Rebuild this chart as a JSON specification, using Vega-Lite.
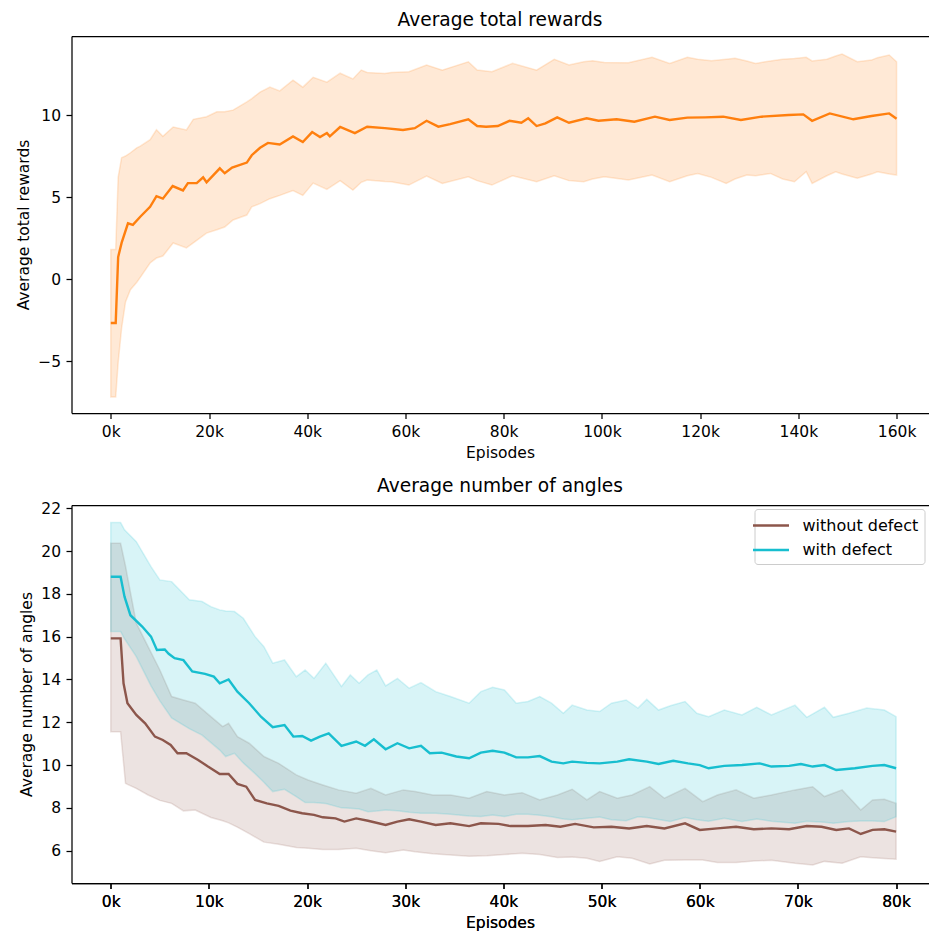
{
  "$schema": "https://vega.github.io/schema/vega-lite/v6.json",
  "padding": {"left": 16.5, "top": 11, "right": 1, "bottom": 0},
  "background": "white",
  "datasets": {
    "top_band": [
      {"ep":0,"lo":-7.2,"hi":1.8},{"ep":1000,"lo":-7.2,"hi":1.8},{"ep":1500,"lo":-5.1,"hi":6.2},{"ep":2200,"lo":-3.0,"hi":7.4},{"ep":3000,"lo":-1.4,"hi":7.5},{"ep":4000,"lo":-0.65,"hi":7.7},{"ep":5300,"lo":-0.2,"hi":8.0},{"ep":6000,"lo":0.1,"hi":8.1},{"ep":8000,"lo":0.98,"hi":8.5},{"ep":9300,"lo":1.28,"hi":9.1},{"ep":10600,"lo":1.4,"hi":8.7},{"ep":12700,"lo":2.2,"hi":9.27},{"ep":15400,"lo":1.9,"hi":9.09},{"ep":16800,"lo":2.2,"hi":9.74},{"ep":19500,"lo":2.8,"hi":9.9},{"ep":21600,"lo":3.0,"hi":10.2},{"ep":23200,"lo":3.17,"hi":10.2},{"ep":24900,"lo":3.6,"hi":10.3},{"ep":27700,"lo":3.9,"hi":10.8},{"ep":28700,"lo":4.4,"hi":11.0},{"ep":30400,"lo":4.6,"hi":11.4},{"ep":32400,"lo":4.9,"hi":11.7},{"ep":34400,"lo":5.1,"hi":11.47},{"ep":37100,"lo":5.4,"hi":12.13},{"ep":39100,"lo":5.1,"hi":11.7},{"ep":41200,"lo":5.85,"hi":12.3},{"ep":44000,"lo":5.47,"hi":12.0},{"ep":46700,"lo":6.0,"hi":12.55},{"ep":49300,"lo":5.42,"hi":12.2},{"ep":51000,"lo":5.9,"hi":12.74},{"ep":52200,"lo":6.04,"hi":12.6},{"ep":55800,"lo":5.95,"hi":12.54},{"ep":57100,"lo":5.93,"hi":12.6},{"ep":60700,"lo":5.73,"hi":12.64},{"ep":64300,"lo":6.28,"hi":13.05},{"ep":67500,"lo":5.83,"hi":12.74},{"ep":72800,"lo":6.24,"hi":13.25},{"ep":74600,"lo":6.0,"hi":12.74},{"ep":77600,"lo":5.73,"hi":12.64},{"ep":81800,"lo":6.3,"hi":13.15},{"ep":86700,"lo":5.93,"hi":12.74},{"ep":90300,"lo":6.3,"hi":13.4},{"ep":93300,"lo":6.0,"hi":13.05},{"ep":96300,"lo":5.93,"hi":13.25},{"ep":98100,"lo":6.1,"hi":13.31},{"ep":100500,"lo":6.24,"hi":13.2},{"ep":105400,"lo":6.04,"hi":13.19},{"ep":110200,"lo":6.34,"hi":13.52},{"ep":113800,"lo":5.93,"hi":13.15},{"ep":117400,"lo":6.3,"hi":13.52},{"ep":119500,"lo":6.44,"hi":13.4},{"ep":122300,"lo":6.2,"hi":13.31},{"ep":125300,"lo":5.83,"hi":13.4},{"ep":127100,"lo":6.1,"hi":13.46},{"ep":129500,"lo":6.34,"hi":13.3},{"ep":131300,"lo":6.3,"hi":13.15},{"ep":134300,"lo":6.44,"hi":13.3},{"ep":136800,"lo":6.1,"hi":13.4},{"ep":139200,"lo":5.93,"hi":13.45},{"ep":141600,"lo":6.54,"hi":13.52},{"ep":142800,"lo":5.83,"hi":13.3},{"ep":145800,"lo":6.3,"hi":13.4},{"ep":147600,"lo":6.54,"hi":13.6},{"ep":148900,"lo":6.4,"hi":13.72},{"ep":152000,"lo":6.14,"hi":13.25},{"ep":154900,"lo":6.4,"hi":13.35},{"ep":156100,"lo":6.54,"hi":13.5},{"ep":158500,"lo":6.4,"hi":13.66},{"ep":160000,"lo":6.34,"hi":13.25}
    ],
    "top_mean": [
      {"ep":0,"v":-2.68},{"ep":1000,"v":-2.68},{"ep":1500,"v":1.34},{"ep":2200,"v":2.2},{"ep":3500,"v":3.4},{"ep":4500,"v":3.3},{"ep":6000,"v":3.8},{"ep":8000,"v":4.4},{"ep":9300,"v":5.05},{"ep":10600,"v":4.9},{"ep":12600,"v":5.67},{"ep":14700,"v":5.4},{"ep":15700,"v":5.85},{"ep":17500,"v":5.85},{"ep":18800,"v":6.2},{"ep":19500,"v":5.9},{"ep":22200,"v":6.75},{"ep":23200,"v":6.45},{"ep":24700,"v":6.8},{"ep":27700,"v":7.1},{"ep":28700,"v":7.55},{"ep":30400,"v":8.0},{"ep":32000,"v":8.3},{"ep":34400,"v":8.2},{"ep":37100,"v":8.7},{"ep":39100,"v":8.35},{"ep":41000,"v":8.96},{"ep":42600,"v":8.66},{"ep":44000,"v":8.9},{"ep":44600,"v":8.7},{"ep":46700,"v":9.27},{"ep":49700,"v":8.9},{"ep":52200,"v":9.29},{"ep":55800,"v":9.2},{"ep":59500,"v":9.09},{"ep":61900,"v":9.2},{"ep":64300,"v":9.65},{"ep":66700,"v":9.29},{"ep":69100,"v":9.45},{"ep":72800,"v":9.74},{"ep":74600,"v":9.33},{"ep":76400,"v":9.29},{"ep":78800,"v":9.33},{"ep":81200,"v":9.65},{"ep":83600,"v":9.53},{"ep":85000,"v":9.8},{"ep":86700,"v":9.33},{"ep":88500,"v":9.49},{"ep":90900,"v":9.86},{"ep":93300,"v":9.53},{"ep":96900,"v":9.8},{"ep":99300,"v":9.65},{"ep":103000,"v":9.74},{"ep":106600,"v":9.59},{"ep":110800,"v":9.9},{"ep":113800,"v":9.7},{"ep":117400,"v":9.84},{"ep":121000,"v":9.86},{"ep":124700,"v":9.9},{"ep":128300,"v":9.7},{"ep":132500,"v":9.9},{"ep":138000,"v":10.0},{"ep":141000,"v":10.04},{"ep":142800,"v":9.65},{"ep":146400,"v":10.1},{"ep":151200,"v":9.74},{"ep":154900,"v":9.94},{"ep":158500,"v":10.1},{"ep":160000,"v":9.78}
    ],
    "bot_band": [
      {"s":"with defect","ep":0,"lo":16.24,"hi":21.33},{"s":"with defect","ep":1000,"lo":16.24,"hi":21.33},{"s":"with defect","ep":1400,"lo":15.9,"hi":20.99},{"s":"with defect","ep":2600,"lo":15.07,"hi":20.44},{"s":"with defect","ep":4100,"lo":13.7,"hi":19.27},{"s":"with defect","ep":5000,"lo":13.0,"hi":18.65},{"s":"with defect","ep":6200,"lo":12.2,"hi":18.57},{"s":"with defect","ep":8000,"lo":11.7,"hi":17.72},{"s":"with defect","ep":9300,"lo":11.4,"hi":17.64},{"s":"with defect","ep":10200,"lo":11.05,"hi":17.4},{"s":"with defect","ep":11100,"lo":10.7,"hi":17.25},{"s":"with defect","ep":11700,"lo":10.4,"hi":17.2},{"s":"with defect","ep":12600,"lo":10.55,"hi":17.17},{"s":"with defect","ep":13500,"lo":10.1,"hi":16.86},{"s":"with defect","ep":14700,"lo":9.6,"hi":16.0},{"s":"with defect","ep":15600,"lo":9.2,"hi":15.53},{"s":"with defect","ep":16500,"lo":8.76,"hi":14.76},{"s":"with defect","ep":17700,"lo":8.87,"hi":14.91},{"s":"with defect","ep":18900,"lo":8.52,"hi":14.13},{"s":"with defect","ep":19800,"lo":8.25,"hi":14.44},{"s":"with defect","ep":20700,"lo":8.25,"hi":14.05},{"s":"with defect","ep":21900,"lo":8.2,"hi":14.76},{"s":"with defect","ep":23500,"lo":8.0,"hi":13.67},{"s":"with defect","ep":24400,"lo":7.98,"hi":14.21},{"s":"with defect","ep":25300,"lo":7.95,"hi":13.82},{"s":"with defect","ep":26200,"lo":7.82,"hi":14.21},{"s":"with defect","ep":27100,"lo":7.85,"hi":14.44},{"s":"with defect","ep":28000,"lo":7.9,"hi":13.7},{"s":"with defect","ep":29200,"lo":7.87,"hi":14.05},{"s":"with defect","ep":30400,"lo":7.8,"hi":13.59},{"s":"with defect","ep":31600,"lo":7.75,"hi":13.85},{"s":"with defect","ep":33100,"lo":7.75,"hi":13.43},{"s":"with defect","ep":34600,"lo":7.7,"hi":13.2},{"s":"with defect","ep":36500,"lo":7.62,"hi":12.89},{"s":"with defect","ep":37700,"lo":7.6,"hi":13.43},{"s":"with defect","ep":38900,"lo":7.67,"hi":13.63},{"s":"with defect","ep":40100,"lo":7.6,"hi":13.51},{"s":"with defect","ep":41300,"lo":7.7,"hi":12.89},{"s":"with defect","ep":42500,"lo":7.7,"hi":12.97},{"s":"with defect","ep":43700,"lo":7.65,"hi":13.2},{"s":"with defect","ep":44900,"lo":7.59,"hi":12.89},{"s":"with defect","ep":46100,"lo":7.48,"hi":12.42},{"s":"with defect","ep":47000,"lo":7.45,"hi":12.8},{"s":"with defect","ep":48500,"lo":7.51,"hi":12.57},{"s":"with defect","ep":49800,"lo":7.57,"hi":12.5},{"s":"with defect","ep":51000,"lo":7.45,"hi":12.89},{"s":"with defect","ep":52500,"lo":7.4,"hi":13.04},{"s":"with defect","ep":53700,"lo":7.58,"hi":12.66},{"s":"with defect","ep":54600,"lo":7.55,"hi":13.07},{"s":"with defect","ep":55800,"lo":7.46,"hi":12.57},{"s":"with defect","ep":57000,"lo":7.36,"hi":12.77},{"s":"with defect","ep":58500,"lo":7.55,"hi":12.97},{"s":"with defect","ep":59700,"lo":7.45,"hi":12.42},{"s":"with defect","ep":60900,"lo":7.38,"hi":12.26},{"s":"with defect","ep":62500,"lo":7.51,"hi":12.57},{"s":"with defect","ep":64300,"lo":7.36,"hi":12.34},{"s":"with defect","ep":65800,"lo":7.48,"hi":12.7},{"s":"with defect","ep":67300,"lo":7.38,"hi":12.34},{"s":"with defect","ep":69700,"lo":7.28,"hi":12.8},{"s":"with defect","ep":70900,"lo":7.38,"hi":12.23},{"s":"with defect","ep":72700,"lo":7.33,"hi":12.7},{"s":"with defect","ep":73600,"lo":7.28,"hi":12.23},{"s":"with defect","ep":75200,"lo":7.36,"hi":12.42},{"s":"with defect","ep":77000,"lo":7.4,"hi":12.66},{"s":"with defect","ep":78800,"lo":7.36,"hi":12.57},{"s":"with defect","ep":80000,"lo":7.59,"hi":12.26},
      {"s":"without defect","ep":0,"lo":11.56,"hi":20.36},{"s":"without defect","ep":1000,"lo":11.56,"hi":20.36},{"s":"without defect","ep":1500,"lo":9.15,"hi":19.3},{"s":"without defect","ep":1700,"lo":9.1,"hi":18.8},{"s":"without defect","ep":2600,"lo":8.91,"hi":16.63},{"s":"without defect","ep":3800,"lo":8.6,"hi":15.53},{"s":"without defect","ep":5000,"lo":8.35,"hi":14.44},{"s":"without defect","ep":6200,"lo":8.21,"hi":13.2},{"s":"without defect","ep":7400,"lo":7.86,"hi":13.04},{"s":"without defect","ep":8600,"lo":7.9,"hi":12.89},{"s":"without defect","ep":10200,"lo":7.55,"hi":12.26},{"s":"without defect","ep":11400,"lo":7.4,"hi":11.8},{"s":"without defect","ep":12000,"lo":7.3,"hi":11.95},{"s":"without defect","ep":12900,"lo":7.1,"hi":11.33},{"s":"without defect","ep":14100,"lo":6.8,"hi":11.02},{"s":"without defect","ep":15600,"lo":6.4,"hi":10.4},{"s":"without defect","ep":17100,"lo":6.3,"hi":10.08},{"s":"without defect","ep":18900,"lo":6.15,"hi":9.54},{"s":"without defect","ep":20100,"lo":6.11,"hi":9.3},{"s":"without defect","ep":21600,"lo":6.06,"hi":9.07},{"s":"without defect","ep":23200,"lo":6.05,"hi":8.84},{"s":"without defect","ep":25000,"lo":6.11,"hi":8.68},{"s":"without defect","ep":26500,"lo":6.0,"hi":8.91},{"s":"without defect","ep":28000,"lo":5.9,"hi":8.6},{"s":"without defect","ep":29800,"lo":6.03,"hi":8.84},{"s":"without defect","ep":31000,"lo":5.95,"hi":8.76},{"s":"without defect","ep":32800,"lo":5.86,"hi":8.6},{"s":"without defect","ep":34600,"lo":5.8,"hi":8.6},{"s":"without defect","ep":36500,"lo":5.74,"hi":8.45},{"s":"without defect","ep":38300,"lo":5.76,"hi":8.76},{"s":"without defect","ep":40100,"lo":5.82,"hi":8.6},{"s":"without defect","ep":41900,"lo":5.88,"hi":8.71},{"s":"without defect","ep":43700,"lo":5.82,"hi":8.37},{"s":"without defect","ep":45500,"lo":5.68,"hi":8.6},{"s":"without defect","ep":47000,"lo":5.7,"hi":8.87},{"s":"without defect","ep":48500,"lo":5.65,"hi":8.37},{"s":"without defect","ep":49800,"lo":5.49,"hi":8.76},{"s":"without defect","ep":51600,"lo":5.72,"hi":8.45},{"s":"without defect","ep":53100,"lo":5.65,"hi":8.6},{"s":"without defect","ep":54900,"lo":5.38,"hi":8.99},{"s":"without defect","ep":56400,"lo":5.55,"hi":8.45},{"s":"without defect","ep":58500,"lo":5.57,"hi":8.91},{"s":"without defect","ep":60300,"lo":5.56,"hi":8.29},{"s":"without defect","ep":61800,"lo":5.45,"hi":8.6},{"s":"without defect","ep":63700,"lo":5.45,"hi":8.84},{"s":"without defect","ep":65500,"lo":5.52,"hi":8.45},{"s":"without defect","ep":67300,"lo":5.55,"hi":8.6},{"s":"without defect","ep":69700,"lo":5.41,"hi":8.84},{"s":"without defect","ep":71500,"lo":5.33,"hi":8.99},{"s":"without defect","ep":72700,"lo":5.5,"hi":8.53},{"s":"without defect","ep":74500,"lo":5.41,"hi":8.84},{"s":"without defect","ep":76400,"lo":5.72,"hi":7.9},{"s":"without defect","ep":77600,"lo":5.67,"hi":8.37},{"s":"without defect","ep":78800,"lo":5.63,"hi":8.4},{"s":"without defect","ep":80000,"lo":5.6,"hi":8.21}
    ],
    "bot_mean": [
      {"s":"without defect","ep":0,"v":15.92},{"s":"without defect","ep":1000,"v":15.92},{"s":"without defect","ep":1300,"v":13.82},{"s":"without defect","ep":1700,"v":12.89},{"s":"without defect","ep":2600,"v":12.34},{"s":"without defect","ep":3500,"v":11.95},{"s":"without defect","ep":4500,"v":11.33},{"s":"without defect","ep":5300,"v":11.17},{"s":"without defect","ep":6100,"v":10.94},{"s":"without defect","ep":6800,"v":10.55},{"s":"without defect","ep":7700,"v":10.55},{"s":"without defect","ep":8900,"v":10.24},{"s":"without defect","ep":9900,"v":9.93},{"s":"without defect","ep":11100,"v":9.58},{"s":"without defect","ep":12000,"v":9.58},{"s":"without defect","ep":12900,"v":9.12},{"s":"without defect","ep":13800,"v":8.99},{"s":"without defect","ep":14700,"v":8.37},{"s":"without defect","ep":15900,"v":8.21},{"s":"without defect","ep":17100,"v":8.09},{"s":"without defect","ep":18300,"v":7.87},{"s":"without defect","ep":19500,"v":7.75},{"s":"without defect","ep":20700,"v":7.67},{"s":"without defect","ep":21600,"v":7.56},{"s":"without defect","ep":22900,"v":7.51},{"s":"without defect","ep":23800,"v":7.36},{"s":"without defect","ep":25000,"v":7.51},{"s":"without defect","ep":26200,"v":7.4},{"s":"without defect","ep":28000,"v":7.2},{"s":"without defect","ep":29200,"v":7.36},{"s":"without defect","ep":30400,"v":7.47},{"s":"without defect","ep":31600,"v":7.36},{"s":"without defect","ep":33100,"v":7.2},{"s":"without defect","ep":34600,"v":7.28},{"s":"without defect","ep":36500,"v":7.15},{"s":"without defect","ep":37700,"v":7.28},{"s":"without defect","ep":39500,"v":7.25},{"s":"without defect","ep":40700,"v":7.15},{"s":"without defect","ep":42500,"v":7.15},{"s":"without defect","ep":44300,"v":7.2},{"s":"without defect","ep":45800,"v":7.12},{"s":"without defect","ep":47300,"v":7.25},{"s":"without defect","ep":49200,"v":7.09},{"s":"without defect","ep":51000,"v":7.12},{"s":"without defect","ep":52800,"v":7.04},{"s":"without defect","ep":54600,"v":7.15},{"s":"without defect","ep":56400,"v":7.04},{"s":"without defect","ep":58500,"v":7.28},{"s":"without defect","ep":60000,"v":6.97},{"s":"without defect","ep":61800,"v":7.04},{"s":"without defect","ep":63700,"v":7.12},{"s":"without defect","ep":65500,"v":7.0},{"s":"without defect","ep":67300,"v":7.04},{"s":"without defect","ep":69100,"v":7.0},{"s":"without defect","ep":70900,"v":7.15},{"s":"without defect","ep":72400,"v":7.12},{"s":"without defect","ep":73900,"v":6.97},{"s":"without defect","ep":75200,"v":7.04},{"s":"without defect","ep":76400,"v":6.78},{"s":"without defect","ep":77600,"v":6.97},{"s":"without defect","ep":78800,"v":7.0},{"s":"without defect","ep":80000,"v":6.89},
      {"s":"with defect","ep":0,"v":18.8},{"s":"with defect","ep":1000,"v":18.8},{"s":"with defect","ep":1400,"v":17.87},{"s":"with defect","ep":2000,"v":17.0},{"s":"with defect","ep":3200,"v":16.47},{"s":"with defect","ep":4100,"v":16.0},{"s":"with defect","ep":4700,"v":15.38},{"s":"with defect","ep":5500,"v":15.4},{"s":"with defect","ep":5900,"v":15.2},{"s":"with defect","ep":6500,"v":14.99},{"s":"with defect","ep":7400,"v":14.9},{"s":"with defect","ep":8300,"v":14.37},{"s":"with defect","ep":9600,"v":14.26},{"s":"with defect","ep":10500,"v":14.13},{"s":"with defect","ep":11100,"v":13.82},{"s":"with defect","ep":12000,"v":14.0},{"s":"with defect","ep":12900,"v":13.43},{"s":"with defect","ep":14100,"v":12.89},{"s":"with defect","ep":15300,"v":12.26},{"s":"with defect","ep":16500,"v":11.77},{"s":"with defect","ep":17700,"v":11.87},{"s":"with defect","ep":18600,"v":11.33},{"s":"with defect","ep":19500,"v":11.36},{"s":"with defect","ep":20400,"v":11.14},{"s":"with defect","ep":21300,"v":11.33},{"s":"with defect","ep":22200,"v":11.48},{"s":"with defect","ep":23500,"v":10.9},{"s":"with defect","ep":25000,"v":11.1},{"s":"with defect","ep":25900,"v":10.9},{"s":"with defect","ep":26800,"v":11.2},{"s":"with defect","ep":28000,"v":10.74},{"s":"with defect","ep":29200,"v":11.02},{"s":"with defect","ep":30400,"v":10.78},{"s":"with defect","ep":31600,"v":10.9},{"s":"with defect","ep":32500,"v":10.55},{"s":"with defect","ep":33700,"v":10.58},{"s":"with defect","ep":35200,"v":10.4},{"s":"with defect","ep":36500,"v":10.32},{"s":"with defect","ep":37700,"v":10.58},{"s":"with defect","ep":38900,"v":10.67},{"s":"with defect","ep":40100,"v":10.58},{"s":"with defect","ep":41300,"v":10.36},{"s":"with defect","ep":42500,"v":10.36},{"s":"with defect","ep":43700,"v":10.42},{"s":"with defect","ep":44900,"v":10.16},{"s":"with defect","ep":46100,"v":10.08},{"s":"with defect","ep":47000,"v":10.16},{"s":"with defect","ep":48500,"v":10.1},{"s":"with defect","ep":49800,"v":10.08},{"s":"with defect","ep":51600,"v":10.16},{"s":"with defect","ep":52800,"v":10.27},{"s":"with defect","ep":54600,"v":10.16},{"s":"with defect","ep":55800,"v":10.05},{"s":"with defect","ep":57300,"v":10.2},{"s":"with defect","ep":58800,"v":10.08},{"s":"with defect","ep":60000,"v":10.0},{"s":"with defect","ep":60900,"v":9.85},{"s":"with defect","ep":62500,"v":9.96},{"s":"with defect","ep":64300,"v":10.0},{"s":"with defect","ep":66100,"v":10.08},{"s":"with defect","ep":67300,"v":9.93},{"s":"with defect","ep":69100,"v":9.96},{"s":"with defect","ep":70300,"v":10.05},{"s":"with defect","ep":71500,"v":9.93},{"s":"with defect","ep":72700,"v":10.0},{"s":"with defect","ep":73900,"v":9.77},{"s":"with defect","ep":75800,"v":9.85},{"s":"with defect","ep":77600,"v":9.96},{"s":"with defect","ep":78800,"v":10.0},{"s":"with defect","ep":80000,"v":9.85}
    ]
  },
  "resolve": {"scale": {"stroke": "independent"}, "legend": {"stroke": "independent"}},
  "vconcat": [
    {
      "width": 857,
      "height": 377,
      "title": {"text": "Average total rewards"},
      "resolve": {"axis": {"x": "independent"}},
      "layer": [
        {
          "data": {"name": "top_band"},
          "mark": {"type": "area", "fill": "#ff7f0e", "fillOpacity": 0.17, "stroke": "#ff7f0e", "strokeOpacity": 0.17, "strokeWidth": 1.5},
          "encoding": {
            "x": {"field": "ep", "type": "quantitative", "scale": {"domain": [-8000, 166500], "nice": false, "zero": false},
                  "axis": {"orient": "bottom", "title": "Episodes", "values": [0,20000,40000,60000,80000,100000,120000,140000,160000], "labelExpr": "format(datum.value/1000, 'd') + 'k'"}},
            "y": {"field": "lo", "type": "quantitative", "scale": {"domain": [-8.17, 14.82], "nice": false, "zero": false},
                  "axis": {"title": "Average total rewards", "values": [-5,0,5,10], "labelExpr": "datum.value < 0 ? '\u2212' + abs(datum.value) : '' + datum.value"}},
            "y2": {"field": "hi"}
          }
        },
        {
          "data": {"name": "top_mean"},
          "mark": {"type": "line", "stroke": "#ff7f0e", "strokeWidth": 2.4},
          "encoding": {
            "x": {"field": "ep", "type": "quantitative", "scale": {"domain": [-8000, 166500], "nice": false, "zero": false},
                  "axis": {"orient": "top", "title": null, "labels": false, "ticks": false, "domain": true}},
            "y": {"field": "v", "type": "quantitative",
                  "axis": {"title": "Average total rewards", "values": [-5,0,5,10], "labelExpr": "datum.value < 0 ? '\u2212' + abs(datum.value) : '' + datum.value"}}
          }
        }
      ]
    },
    {
      "width": 857,
      "height": 378,
      "title": {"text": "Average number of angles"},
      "resolve": {"axis": {"x": "independent"}},
      "layer": [
        {
          "data": {"name": "bot_band"},
          "transform": [{"filter": "datum.s == 'without defect'"}],
          "mark": {"type": "area", "fill": "#8c564b", "fillOpacity": 0.17, "stroke": "#8c564b", "strokeOpacity": 0.17, "strokeWidth": 1.5},
          "encoding": {
            "x": {"field": "ep", "type": "quantitative", "scale": {"domain": [-4000, 83300], "nice": false, "zero": false},
                  "axis": {"orient": "bottom", "title": "Episodes", "values": [0,10000,20000,30000,40000,50000,60000,70000,80000], "labelExpr": "format(datum.value/1000, 'd') + 'k'"}},
            "y": {"field": "lo", "type": "quantitative", "scale": {"domain": [4.49, 22.15], "nice": false, "zero": false},
                  "axis": {"title": "Average number of angles", "values": [6,8,10,12,14,16,18,20,22]}},
            "y2": {"field": "hi"}
          }
        },
        {
          "data": {"name": "bot_band"},
          "transform": [{"filter": "datum.s == 'with defect'"}],
          "mark": {"type": "area", "fill": "#17becf", "fillOpacity": 0.17, "stroke": "#17becf", "strokeOpacity": 0.17, "strokeWidth": 1.5},
          "encoding": {
            "x": {"field": "ep", "type": "quantitative",
                  "axis": {"orient": "bottom", "title": "Episodes", "values": [0,10000,20000,30000,40000,50000,60000,70000,80000], "labelExpr": "format(datum.value/1000, 'd') + 'k'"}},
            "y": {"field": "lo", "type": "quantitative",
                  "axis": {"title": "Average number of angles", "values": [6,8,10,12,14,16,18,20,22]}},
            "y2": {"field": "hi"}
          }
        },
        {
          "data": {"name": "bot_mean"},
          "mark": {"type": "line", "strokeWidth": 2.4},
          "encoding": {
            "x": {"field": "ep", "type": "quantitative",
                  "axis": {"orient": "top", "title": null, "labels": false, "ticks": false, "domain": true}},
            "y": {"field": "v", "type": "quantitative",
                  "axis": {"title": "Average number of angles", "values": [6,8,10,12,14,16,18,20,22]}},
            "stroke": {"field": "s", "type": "nominal", "sort": null,
                       "scale": {"domain": ["without defect", "with defect"], "range": ["#8c564b", "#17becf"]},
                       "legend": {"title": null, "orient": "top-right", "offset": 4}}
          }
        }
      ]
    }
  ],
  "spacing": 92,
  "bounds": "flush",
  "config": {
    "view": {"stroke": null},
    "font": "DejaVu Sans",
    "axis": {
      "grid": false,
      "domainColor": "#000", "domainWidth": 1.25,
      "tickColor": "#000", "tickWidth": 1.25, "tickSize": 5.5,
      "labelFont": "DejaVu Sans", "labelFontSize": 15.5, "labelColor": "#000", "labelPadding": 5.5,
      "titleFont": "DejaVu Sans", "titleFontSize": 15.5, "titleFontWeight": "normal", "titleColor": "#000", "titlePadding": 6
    },
    "title": {"font": "DejaVu Sans", "fontSize": 18.6, "fontWeight": "normal", "color": "#000", "offset": 6},
    "legend": {
      "labelFont": "DejaVu Sans", "labelFontSize": 16, "labelColor": "#000",
      "symbolType": "M-2,0H2", "symbolSize": 324, "symbolStrokeWidth": 2.4,
      "labelOffset": 21, "rowPadding": 5.5, "padding": 6,
      "strokeColor": "#cccccc", "fillColor": "rgba(255,255,255,0.8)", "cornerRadius": 3
    }
  }
}
